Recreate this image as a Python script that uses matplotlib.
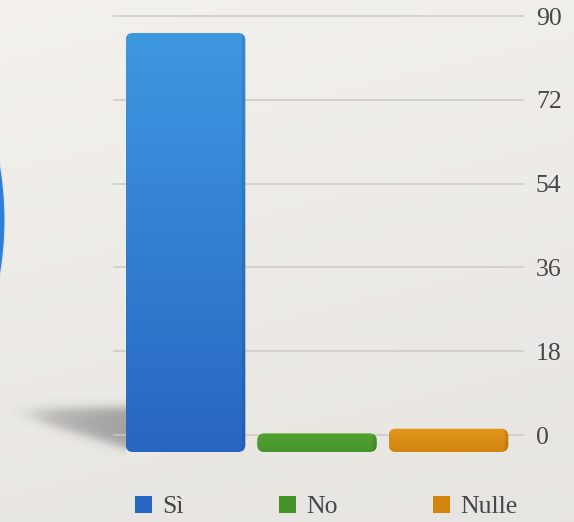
import numpy as np
import matplotlib.pyplot as plt
from matplotlib.colors import to_rgb
from matplotlib.patches import FancyBboxPatch, Circle, Patch

# vote results
categories = ['Sì', 'No', 'Nulle']
votes = [90, 4, 5]
y_ticks = [0, 18, 36, 54, 72, 90]

colors_top = ['#3e98e0', '#53a433', '#e1961b']
colors_bottom = ['#2866c3', '#45922a', '#d2840f']

plt.rcParams['font.family'] = 'Liberation Serif'

W, H = 574, 522
fig = plt.figure(figsize=(W / 100, H / 100), dpi=100)

# paper background, pixel coordinates
bg = fig.add_axes([0, 0, 1, 1], zorder=-10)
bg.set_xlim(0, W)
bg.set_ylim(0, H)
bg.axis('off')
yy, xx = np.mgrid[0:1:200j, 0:1:200j]
shade = 0.955 - 0.038 * yy - 0.01 * xx
bg.imshow(np.dstack([shade, shade * 0.99, shade * 0.972]),
          extent=[0, W, 0, H], aspect='auto', zorder=0)

# edge of the round chart sitting next to this one
bg.add_patch(Circle((-322, H - 220), 327, facecolor='#2f7fd4',
                    edgecolor='#d8e5f2', lw=0.8, zorder=1))

# soft shadow cast by the tall bar
sx0, sx1, sy0, sy1 = 10, 126, 396, 460
py, px = np.mgrid[sy0:sy1:128j, sx0:sx1:232j]
t = (px - 22) / (124 - 22)
top = 409 - 2 * t
bot = 417 + 30 * t
sig = lambda v: 1 / (1 + np.exp(-v))
alpha = sig((py - top) / 3.0) * sig((bot - py) / 3.0) * sig((px - 32) / 10)
alpha *= 0.34 + 0.2 * np.clip(t, 0, 1)
shadow = np.zeros(alpha.shape + (4,))
shadow[..., :3] = 0.40
shadow[..., 3] = alpha
bg.imshow(shadow, extent=[sx0, sx1, H - sy1, H - sy0], aspect='auto', zorder=2)

# bar chart axes
zero_px, top_px = 435, 16
ppu = (zero_px - top_px) / 90
ylo, yhi = -4, 92
ax_bot = zero_px - ylo * ppu
ax_top = top_px - (yhi - 90) * ppu
c0, step = 185.5, 131.5
gl_left, gl_right = 113, 524
ax = fig.add_axes([gl_left / W, (H - ax_bot) / H,
                   (gl_right - gl_left) / W, (ax_bot - ax_top) / H])
ax.patch.set_visible(False)

depth = 17 / ppu
x = np.arange(len(categories))
bars = ax.bar(x, votes, width=0.91, bottom=-depth)

aspect = step / ppu
for rect, ct, cb in zip(bars, colors_top, colors_bottom):
    bx, by, bw, bh = rect.get_x(), rect.get_y(), rect.get_width(), rect.get_height()
    rect.set_visible(False)
    box = FancyBboxPatch((bx, by), bw, bh,
                         boxstyle='round,pad=0,rounding_size=0.055',
                         mutation_aspect=aspect, facecolor='none',
                         edgecolor='none', zorder=3)
    ax.add_patch(box)
    v = np.linspace(0, 1, 100)[:, None]
    h = np.linspace(0, 1, 60)[None, :]
    grad = (np.array(to_rgb(ct)) * (1 - v[..., None])
            + np.array(to_rgb(cb)) * v[..., None])
    side = np.where(h > 0.97, 0.9, 1.0)
    grad = grad * side[..., None]
    img = ax.imshow(grad, extent=[bx, bx + bw, by, by + bh],
                    aspect='auto', zorder=3, interpolation='bilinear')
    img.set_clip_path(box)

ax.set_xlim((gl_left - c0) / step, (gl_right - c0) / step)
ax.set_ylim(ylo, yhi)

ax.set_yticks(y_ticks)
ax.set_xticks([])
ax.yaxis.tick_right()
ax.tick_params(axis='y', length=0, pad=8.5, labelsize=18.5, labelcolor='#474747')
ax.grid(axis='y', color='#cdcac5', lw=1.1)
ax.set_axisbelow(True)
for s in ax.spines.values():
    s.set_visible(False)

handles = [Patch(facecolor=c) for c in colors_bottom]
fig.legend(handles, categories, loc='center', bbox_to_anchor=(326.5 / W, 1 - 507 / H),
           ncol=3, frameon=False, fontsize=18.5, handlelength=0.66, handleheight=0.66,
           handletextpad=0.39, columnspacing=3.72, labelcolor='#474747')

fig.savefig('out.png', dpi=100)
